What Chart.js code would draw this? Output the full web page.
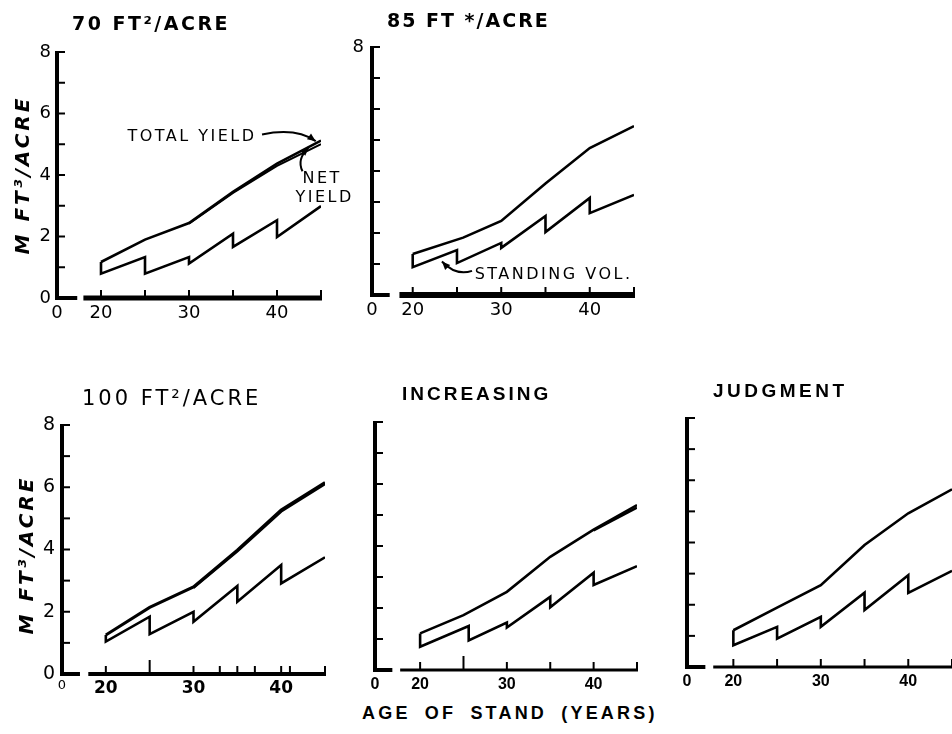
<!DOCTYPE html>
<html>
<head>
<meta charset="utf-8">
<script src="https://cdn.jsdelivr.net/npm/chart.js@4.4.1/dist/chart.umd.min.js"></script>
<style>
  body { margin: 0; background: #fff; width: 952px; height: 734px; overflow: hidden; position: relative; }
  canvas { position: absolute; }
  #xlab { position: absolute; left: 362px; top: 703px; font: bold 18px "Liberation Sans", Arial, sans-serif; letter-spacing: 3.2px; word-spacing: 6px; color: #000; white-space: nowrap; }
</style>
</head>
<body>
<canvas id="c2" width="310" height="330" style="left:340px;top:0"></canvas>
<canvas id="c1" width="360" height="330" style="left:0;top:0"></canvas>
<canvas id="c3" width="340" height="330" style="left:0;top:370px"></canvas>
<canvas id="c4" width="310" height="330" style="left:340px;top:370px"></canvas>
<canvas id="c5" width="302" height="330" style="left:650px;top:370px"></canvas>
<div id="xlab">AGE OF STAND (YEARS)</div>
<script>
(function(){
    "use strict";

    // ---- data (years, thousand ft3/acre) ----
    const totalX = [20, 25, 30, 35, 40, 45];
    const totalX85 = [20, 25.7, 30, 35, 40, 45];
    const standX = [20, 20, 25, 25, 30, 30, 35, 35, 40, 40, 45];
    const standXInc = [20, 20, 25.6, 25.6, 30, 30, 35, 35, 40, 40, 45];

    const total70 = [1.17, 1.9, 2.44, 3.45, 4.37, 5.12];
    const net70X = [30, 35, 40, 45];
    const net70 = [2.42, 3.42, 4.3, 5.0];
    const stand70 = [1.17, 0.79, 1.33, 0.79, 1.33, 1.12, 2.09, 1.66, 2.53, 1.98, 2.99];

    const total85 = [1.32, 1.85, 2.39, 3.6, 4.74, 5.45];
    const stand85 = [1.32, 0.9, 1.45, 1.03, 1.68, 1.52, 2.55, 2.03, 3.13, 2.64, 3.23];

    const total100 = [1.25, 2.14, 2.8, 3.98, 5.27, 6.15];
    const net100X = [30, 35, 40, 45];
    const net100 = [2.77, 3.94, 5.22, 6.1];
    const stand100 = [1.25, 1.04, 1.84, 1.28, 2.0, 1.68, 2.83, 2.32, 3.5, 2.91, 3.75];

    const totalInc = [1.18, 1.77, 2.52, 3.65, 4.53, 5.32];
    const netIncX = [40, 45];
    const netInc = [4.5, 5.24];
    const standInc = [1.18, 0.75, 1.42, 0.95, 1.53, 1.37, 2.36, 2.02, 3.14, 2.74, 3.35];

    const totalJud = [1.18, 1.91, 2.63, 3.92, 4.94, 5.71];
    const standJud = [1.18, 0.70, 1.29, 0.91, 1.61, 1.29, 2.39, 1.83, 2.95, 2.38, 3.09];

    const xTickLabels = [20, 30, 40];
    const xTickMarks = [20, 25, 30, 35, 40, 45];
    const xTickMarks100 = [20, 25, 30, 33, 35, 37, 40, 41, 45];
    const yTickMarks = [1, 2, 3, 4, 5, 6, 7, 8];
    const yLabelsFull = [0, 2, 4, 6, 8];
    const yLabelsTop = [8];
    const yLabelsNone = [];

    const LETTER = '"DejaVu Sans", sans-serif';
    const BOLD = '"Liberation Sans", Arial, sans-serif';

    function pts(xs, ys) { return xs.map((x, i) => ({ x: x, y: ys[i] })); }
    function line(xs, ys, w) { return { data: pts(xs, ys), borderColor: '#000', borderWidth: w || 2.6, pointRadius: 0, fill: false, tension: 0 }; }

    function arrowHead(ctx, fx, fy, tx, ty, size) {
        const a = Math.atan2(ty - fy, tx - fx);
        ctx.beginPath();
        ctx.moveTo(tx, ty);
        ctx.lineTo(tx - size * Math.cos(a - 0.4), ty - size * Math.sin(a - 0.4));
        ctx.lineTo(tx - size * Math.cos(a + 0.4), ty - size * Math.sin(a + 0.4));
        ctx.closePath(); ctx.fill();
    }

    const axesPlugin = {
        id: 'axes',
        afterDraw(chart, args, o) {
            const ctx = chart.ctx, a = chart.chartArea, x = chart.scales.x, y = chart.scales.y;
            const y0 = y.getPixelForValue(0), y8 = y.getPixelForValue(8), xl = a.left;
            ctx.save();
            ctx.strokeStyle = '#000'; ctx.fillStyle = '#000'; ctx.lineCap = 'butt';
            // y axis + inward ticks
            ctx.lineWidth = o.axisW;
            ctx.beginPath(); ctx.moveTo(xl, y0 + o.axisW / 2); ctx.lineTo(xl, y8 - 1); ctx.stroke();
            ctx.lineWidth = 2;
            yTickMarks.forEach(v => { const p = y.getPixelForValue(v); ctx.beginPath(); ctx.moveTo(xl, p); ctx.lineTo(xl + 8, p); ctx.stroke(); });
            // broken x axis
            ctx.lineWidth = o.axisW;
            ctx.beginPath(); ctx.moveTo(xl, y0); ctx.lineTo(x.getPixelForValue(o.stubEnd), y0); ctx.stroke();
            ctx.lineWidth = o.mainW;
            ctx.beginPath(); ctx.moveTo(x.getPixelForValue(o.mainStart), y0); ctx.lineTo(x.getPixelForValue(45) + 1, y0); ctx.stroke();
            ctx.lineWidth = 2;
            o.xMarks.forEach(v => { const p = x.getPixelForValue(v); ctx.beginPath(); ctx.moveTo(p, y0); ctx.lineTo(p, y0 - (v === 25 && o.tall25 ? 14 : 8)); ctx.stroke(); });
            // title
            ctx.font = o.titleFont; ctx.letterSpacing = o.titleSpacing; ctx.textAlign = 'left'; ctx.textBaseline = 'alphabetic';
            ctx.fillText(o.title, o.titleX, o.titleY);
            // y title
            if (o.yTitle) {
                ctx.save();
                ctx.translate(o.yTitleX, o.yTitleY); ctx.rotate(-Math.PI / 2);
                ctx.font = 'italic bold 20px ' + LETTER; ctx.letterSpacing = '3px'; ctx.textAlign = 'center'; ctx.textBaseline = 'middle';
                ctx.fillText('M FT³/ACRE', 0, 0);
                ctx.restore();
            }
            // notes
            (o.notes || []).forEach(n => {
                ctx.font = '16px ' + LETTER; ctx.letterSpacing = '2.5px'; ctx.textAlign = n.align || 'left';
                n.lines.forEach((t, i) => ctx.fillText(t, x.getPixelForValue(n.tx[i]), y.getPixelForValue(n.ty[i])));
                if (n.arrow) {
                    const p = n.arrow.map(q => [x.getPixelForValue(q[0]), y.getPixelForValue(q[1])]);
                    ctx.lineWidth = 2;
                    ctx.beginPath(); ctx.moveTo(p[0][0], p[0][1]); ctx.quadraticCurveTo(p[1][0], p[1][1], p[2][0], p[2][1]); ctx.stroke();
                    arrowHead(ctx, p[1][0], p[1][1], p[2][0], p[2][1], 9);
                }
            });
            ctx.restore();
        }
    };

    function panel(id, cfg) {
        const min = cfg.min;
        new Chart(document.getElementById(id), {
            type: 'line',
            data: { datasets: cfg.datasets },
            options: {
                responsive: false, animation: false,
                layout: { padding: cfg.pad },
                plugins: { legend: { display: false }, tooltip: { enabled: false }, axes: cfg.axes },
                scales: {
                    x: {
                        type: 'linear', min: min, max: 45,
                        grid: { display: false, drawTicks: false }, border: { display: false },
                        afterBuildTicks: s => { s.ticks = [min].concat(xTickLabels).map(v => ({ value: v })); },
                        afterFit: s => { s.height = 24; },
                        ticks: {
                            autoSkip: false, maxRotation: 0, padding: cfg.xPad, color: '#000',
                            font: c => (c.tick && c.tick.value === min) ? cfg.zeroFont : cfg.xFont,
                            callback: v => v === min ? '0' : String(v)
                        }
                    },
                    y: {
                        min: 0, max: 8,
                        grid: { display: false, drawTicks: false }, border: { display: false },
                        afterBuildTicks: s => { s.ticks = cfg.yLabels.map(v => ({ value: v })); },
                        afterFit: s => { s.width = 30; },
                        ticks: { autoSkip: false, padding: cfg.yPad, color: '#000', font: cfg.yFont }
                    }
                }
            },
            plugins: [axesPlugin]
        });
    }

    const letterTick = { family: LETTER, size: 18 };
    const boldTick = { family: BOLD, size: 16, weight: 'bold' };

    panel('c1', {
        min: 15, pad: { left: 27, right: 39, top: 52, bottom: 8 }, xPad: 5, yPad: 6,
        xFont: letterTick, zeroFont: letterTick, yFont: letterTick, yLabels: yLabelsFull,
        datasets: [line(totalX, total70), line(net70X, net70, 2), line(standX, stand70)],
        axes: {
            axisW: 4, mainW: 5, stubEnd: 17.3, mainStart: 18, xMarks: xTickMarks,
            title: '70 FT²/ACRE', titleFont: 'bold 19px ' + LETTER, titleSpacing: '2.5px', titleX: 72, titleY: 30,
            yTitle: true, yTitleX: 24, yTitleY: 175,
            notes: [
                { lines: ['TOTAL YIELD'], tx: [23], ty: [5.1], arrow: [[38.3, 5.32], [42.2, 5.55], [44.4, 5.1]] },
                { lines: ['NET', 'YIELD'], tx: [42.9, 42.1], ty: [3.75, 3.12], arrow: [[42.9, 4.12], [42.2, 4.5], [43.6, 4.9]] }
            ]
        }
    });

    panel('c2', {
        min: 15.4, pad: { left: 2, right: 16, top: 47, bottom: 11 }, xPad: 5, yPad: 8,
        xFont: letterTick, zeroFont: letterTick, yFont: letterTick, yLabels: yLabelsTop,
        datasets: [line(totalX85, total85), line(standX, stand85)],
        axes: {
            axisW: 4, mainW: 6, stubEnd: 17.4, mainStart: 18.5, xMarks: xTickMarks,
            title: '85 FT */ACRE', titleFont: 'bold 19px ' + LETTER, titleSpacing: '2px', titleX: 47, titleY: 27,
            notes: [
                { lines: ['STANDING VOL.'], tx: [27.0], ty: [0.52], arrow: [[26.7, 0.78], [24.9, 0.6], [23.3, 1.08]] }
            ]
        }
    });

    panel('c3', {
        min: 15, pad: { left: 32, right: 15, top: 55, bottom: 2 }, xPad: 4, yPad: 7,
        xFont: { family: LETTER, size: 17, weight: 'bold' }, zeroFont: { family: LETTER, size: 13 }, yFont: { family: LETTER, size: 19 },
        yLabels: yLabelsFull,
        datasets: [line(totalX, total100, 3), line(net100X, net100, 2.5), line(standX, stand100)],
        axes: {
            axisW: 4, mainW: 4, stubEnd: 17.05, mainStart: 18, xMarks: xTickMarks100, tall25: true,
            title: '100 FT²/ACRE', titleFont: '21px ' + LETTER, titleSpacing: '3px', titleX: 82, titleY: 35,
            yTitle: true, yTitleX: 28, yTitleY: 185
        }
    });

    panel('c4', {
        min: 14.8, pad: { left: 5, right: 13, top: 52, bottom: 6 }, xPad: 5, yPad: 6,
        xFont: boldTick, zeroFont: boldTick, yFont: boldTick, yLabels: yLabelsNone,
        datasets: [line(totalX, totalInc), line(netIncX, netInc, 2.5), line(standXInc, standInc)],
        axes: {
            axisW: 4, mainW: 3, stubEnd: 16.8, mainStart: 17.7, xMarks: xTickMarks, tall25: true,
            title: 'INCREASING', titleFont: 'bold 19px ' + BOLD, titleSpacing: '3px', titleX: 62, titleY: 30
        }
    });

    panel('c5', {
        min: 14.7, pad: { left: 7, right: 0, top: 48, bottom: 9 }, xPad: 5, yPad: 6,
        xFont: boldTick, zeroFont: boldTick, yFont: boldTick, yLabels: yLabelsNone,
        datasets: [line(totalX, totalJud), line(standX, standJud)],
        axes: {
            axisW: 4, mainW: 3, stubEnd: 16.8, mainStart: 17.7, xMarks: xTickMarks,
            title: 'JUDGMENT', titleFont: 'bold 19px ' + BOLD, titleSpacing: '3.5px', titleX: 63, titleY: 27
        }
    });
})();
</script>
</body>
</html>
